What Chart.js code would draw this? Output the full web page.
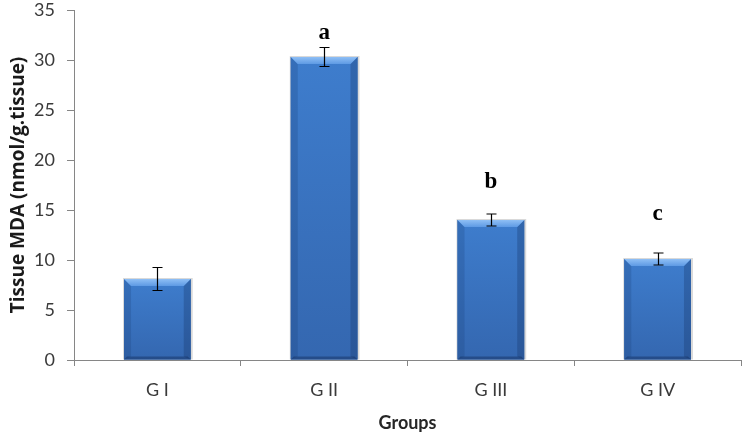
<!DOCTYPE html>
<html>
<head>
<meta charset="utf-8">
<script src="https://cdn.jsdelivr.net/npm/chart.js@4"></script>
<style>
  html, body { margin: 0; padding: 0; background: #fff; }
  #wrap { width: 744px; height: 436px; }
</style>
</head>
<body>
<div id="wrap"><canvas id="mda"></canvas></div>
<script>
// data
const groups = ['G I', 'G II', 'G III', 'G IV'];
const mdaValues = [8.1, 30.3, 14.0, 10.1];
const mdaErrors = [1.15, 0.95, 0.6, 0.6];
const sigLetters = ['', 'a', 'b', 'c'];
const letterY = [0, 32.7, 17.8, 14.6];   // where the letters sit, in axis units
const yTicks = [0, 5, 10, 15, 20, 25, 30, 35];

const axisGrey = '#868686';

// bevelled blue bars, drawn over the library's bar rectangles
const bevelPlugin = {
    id: 'bevel',
    afterDatasetsDraw(chart) {
        const ctx = chart.ctx;
        const meta = chart.getDatasetMeta(0);
        meta.data.forEach(bar => {
            const l = bar.x - bar.width / 2;
            const r = bar.x + bar.width / 2;
            const t = bar.y;
            const b = bar.base;
            const bev = 7;
            ctx.save();
            // soft shadow
            ctx.fillStyle = 'rgba(0,0,0,0.15)';
            ctx.fillRect(l - 1, t - 1, r - l + 3, b - t + 1);
            // body
            let g = ctx.createLinearGradient(0, t, 0, b);
            g.addColorStop(0, '#3e7dcd');
            g.addColorStop(1, '#3467b0');
            ctx.fillStyle = g;
            ctx.fillRect(l, t, r - l, b - t);
            // sides, a bit darker
            ctx.fillStyle = 'rgba(25,60,115,0.22)';
            ctx.beginPath();
            ctx.moveTo(l, t); ctx.lineTo(l + bev, t + bev);
            ctx.lineTo(l + bev, b - 3); ctx.lineTo(l, b);
            ctx.closePath(); ctx.fill();
            ctx.fillStyle = 'rgba(20,50,100,0.30)';
            ctx.beginPath();
            ctx.moveTo(r, t); ctx.lineTo(r - bev, t + bev);
            ctx.lineTo(r - bev, b - 3); ctx.lineTo(r, b);
            ctx.closePath(); ctx.fill();
            // top bevel
            g = ctx.createLinearGradient(0, t, 0, t + bev);
            g.addColorStop(0, '#8fbff5');
            g.addColorStop(1, '#5e9ae4');
            ctx.fillStyle = g;
            ctx.beginPath();
            ctx.moveTo(l, t); ctx.lineTo(r, t);
            ctx.lineTo(r - bev, t + bev); ctx.lineTo(l + bev, t + bev);
            ctx.closePath(); ctx.fill();
            // bottom edge
            ctx.fillStyle = 'rgba(20,45,90,0.45)';
            ctx.beginPath();
            ctx.moveTo(l, b); ctx.lineTo(r, b);
            ctx.lineTo(r - 3, b - 3); ctx.lineTo(l + 3, b - 3);
            ctx.closePath(); ctx.fill();
            ctx.restore();
        });
    }
};

// error bars + significance letters
const errorPlugin = {
    id: 'errbars',
    afterDatasetsDraw(chart) {
        const ctx = chart.ctx;
        const ys = chart.scales.y;
        const meta = chart.getDatasetMeta(0);
        ctx.save();
        ctx.strokeStyle = '#000';
        ctx.lineWidth = 1.2;
        meta.data.forEach((bar, i) => {
            const x = Math.round(bar.x) + 0.5;
            const hi = ys.getPixelForValue(mdaValues[i] + mdaErrors[i]);
            const lo = ys.getPixelForValue(mdaValues[i] - mdaErrors[i]);
            ctx.beginPath();
            ctx.moveTo(x, hi); ctx.lineTo(x, lo);
            ctx.moveTo(x - 5, hi); ctx.lineTo(x + 5, hi);
            ctx.moveTo(x - 5, lo); ctx.lineTo(x + 5, lo);
            ctx.stroke();
            if (sigLetters[i]) {
                ctx.fillStyle = '#000';
                ctx.font = 'bold 23px "Liberation Serif"';
                ctx.textAlign = 'center';
                ctx.textBaseline = 'middle';
                ctx.fillText(sigLetters[i], bar.x, ys.getPixelForValue(letterY[i]));
            }
        });
        ctx.restore();
    }
};

Chart.defaults.font.family = 'Lato, "Open Sans", sans-serif';
Chart.defaults.color = '#3a3a3a';

new Chart(document.getElementById('mda'), {
    type: 'bar',
    data: {
        labels: groups,
        datasets: [{
            label: 'Tissue MDA',
            data: mdaValues,
            backgroundColor: '#3a75c4',
            borderWidth: 0,
            categoryPercentage: 1,
            barPercentage: 0.4
        }]
    },
    options: {
        responsive: true,
        maintainAspectRatio: false,
        animation: false,
        layout: { padding: { top: 10, right: 3, left: 0, bottom: 0 } },
        plugins: {
            legend: { display: false },
            tooltip: { enabled: false }
        },
        scales: {
            x: {
                afterFit: s => { s.height = 76; },
                grid: {
                    offset: true,
                    drawOnChartArea: false,
                    color: axisGrey,
                    tickLength: 6
                },
                border: { color: axisGrey, width: 1 },
                ticks: { padding: 13, font: { size: 18 }, color: '#3a3a3a' },
                title: {
                    display: true,
                    text: 'Groups',
                    font: { size: 18, weight: 'bold' },
                    color: '#262626',
                    padding: { top: 10, bottom: 2 }
                }
            },
            y: {
                min: 0,
                max: 35,
                afterFit: s => { s.width = 74; s.paddingTop = 0; s.paddingBottom = 0; },
                afterBuildTicks: s => { s.ticks = yTicks.map(v => ({ value: v })); },
                grid: {
                    drawOnChartArea: false,
                    color: axisGrey,
                    tickLength: 7
                },
                border: { color: axisGrey, width: 1 },
                ticks: { padding: 12, font: { size: 18 }, color: '#3a3a3a' },
                title: {
                    display: true,
                    text: 'Tissue MDA (nmol/g.tissue)',
                    font: { family: '"Open Sans"', size: 19, weight: 'bold' },
                    color: '#1a1a1a',
                    padding: { top: 7, bottom: 4 }
                }
            }
        }
    },
    plugins: [bevelPlugin, errorPlugin]
});
</script>
</body>
</html>
